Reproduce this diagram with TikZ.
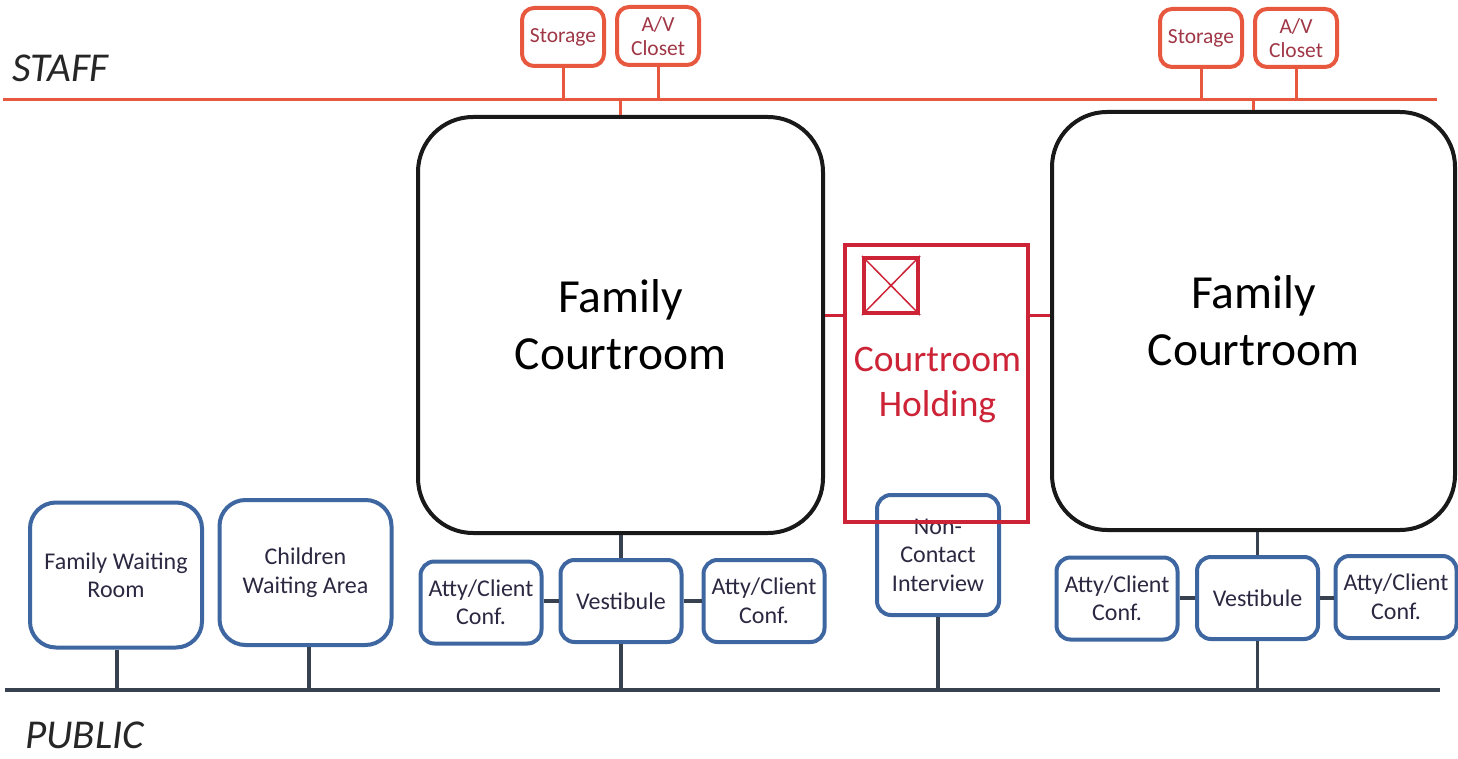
\documentclass[tikz,border=0pt]{standalone}
\usepackage{fontspec}
\setmainfont{Carlito}
\definecolor{staffred}{RGB}{232,88,62}
\definecolor{stortext}{RGB}{160,55,70}
\definecolor{holdred}{RGB}{205,35,55}
\definecolor{boxblue}{RGB}{62,102,160}
\definecolor{pubgray}{RGB}{55,65,80}
\definecolor{boxtext}{RGB}{45,40,65}
\tikzset{
  x=1pt, y=-1pt,
  stor/.style={draw=staffred, line width=4pt, rounded corners=12pt, fill=white,
    minimum width=82pt, minimum height=58pt, inner sep=0pt, align=center,
    text=stortext, font=\fontsize{21.5}{24}\selectfont},
  court/.style={draw=black!90, line width=4pt, rounded corners=55pt, fill=white,
    inner sep=0pt, align=center, font=\fontsize{47.5}{57}\selectfont},
  bbox/.style={draw=boxblue, line width=4pt, rounded corners=14pt, fill=white,
    inner sep=0pt, align=center, text=boxtext, font=\fontsize{24}{28.5}\selectfont},
  wbox/.style={bbox, rounded corners=26pt, minimum width=172pt, minimum height=145pt},
  sbox/.style={bbox, minimum width=121pt, minimum height=82pt},
  stline/.style={draw=staffred, line width=3pt},
  publine/.style={draw=pubgray, line width=3.5pt},
  holdline/.style={draw=holdred, line width=3pt},
  tag/.style={font=\fontsize{41}{48}\selectfont\itshape, text=black!85, inner sep=0pt, anchor=west}
}
\begin{document}
\begin{tikzpicture}
\useasboundingbox (0,0) rectangle (1458,759);
% labels
\node[tag] (staff) at (12,68) {STAFF};
\node[tag] (public) at (25,735) {PUBLIC};
% backbone lines
\coordinate (staffL) at (3,100);
\coordinate (staffR) at (1437,100);
\coordinate (pubL) at (5,690);
\coordinate (pubR) at (1440,690);
\draw[stline] (staffL) -- (staffR);
\draw[publine] (pubL) -- (pubR);
% staff rooms
\node[stor] (st1) at (563,37) {Storage};
\node[stor] (av1) at (658,36) {A/V\\Closet};
\node[stor] (st2) at (1201,38) {Storage};
\node[stor] (av2) at (1296,38) {A/V\\Closet};
\foreach \n in {st1,av1,st2,av2} \draw[stline] (\n.south) -- (\n.south |- staffL);
% courtrooms
\node[court, minimum width=405pt, minimum height=416pt] (cr1) at (620.5,325) {Family\\Courtroom};
\node[court, minimum width=403pt, minimum height=418pt] (cr2) at (1253.5,321) {Family\\Courtroom};
\draw[stline] (cr1.north) -- (cr1.north |- staffL);
\draw[stline] (cr2.north) -- (cr2.north |- staffL);
% non-contact interview
\node[bbox, minimum width=122pt, minimum height=120pt] (nc) at (938,555) {Non-\\Contact\\Interview};
\draw[publine] (nc.south) -- (nc.south |- pubL);
% holding
\node[draw=holdred, line width=4pt, minimum width=183pt, minimum height=277pt, inner sep=0pt] (hold) at (936.5,383.5) {};
\node[text=holdred, align=center, font=\fontsize{37.5}{45}\selectfont] (holdtxt) at (937.5,385) {Courtroom\\Holding};
\node[draw=holdred, line width=4pt, minimum width=54pt, minimum height=55pt, inner sep=0pt] (xb) at (891,285.5) {};
\draw[holdred, line width=1.5pt] (xb.north west) -- (xb.south east) (xb.north east) -- (xb.south west);
\coordinate (hy) at (0,315);
\draw[holdline] (cr1.east |- hy) -- (hold.west |- hy);
\draw[holdline] (hold.east |- hy) -- (cr2.west |- hy);
% waiting
\node[wbox] (fw) at (116,575) {Family Waiting\\Room};
\node[wbox] (cw) at (305.5,572.5) {Children\\Waiting Area};
\draw[publine] (fw.south -| 117,0) -- (117,0 |- pubL);
\draw[publine] (cw.south -| 309,0) -- (309,0 |- pubL);
% left cluster
\node[sbox] (ac1) at (481,602.5) {Atty/Client\\Conf.};
\node[sbox] (ve1) at (621,601) {Vestibule};
\node[sbox] (ac2) at (764,601) {Atty/Client\\Conf.};
\draw[publine] (ac1.east |- ve1) -- (ve1.west);
\draw[publine] (ve1.east) -- (ac2.west |- ve1);
\draw[publine] (ve1.north) -- (ve1.north |- cr1.south);
\draw[publine] (ve1.south) -- (ve1.south |- pubL);
% right cluster
\node[sbox] (ac3) at (1117,598.5) {Atty/Client\\Conf.};
\node[sbox] (ve2) at (1257.5,598) {Vestibule};
\node[sbox] (ac4) at (1396,597) {Atty/Client\\Conf.};
\draw[publine] (ac3.east |- ve2) -- (ve2.west);
\draw[publine] (ve2.east) -- (ac4.west |- ve2);
\draw[publine] (ve2.north) -- (ve2.north |- cr2.south);
\draw[publine] (ve2.south) -- (ve2.south |- pubL);
\end{tikzpicture}
\end{document}
